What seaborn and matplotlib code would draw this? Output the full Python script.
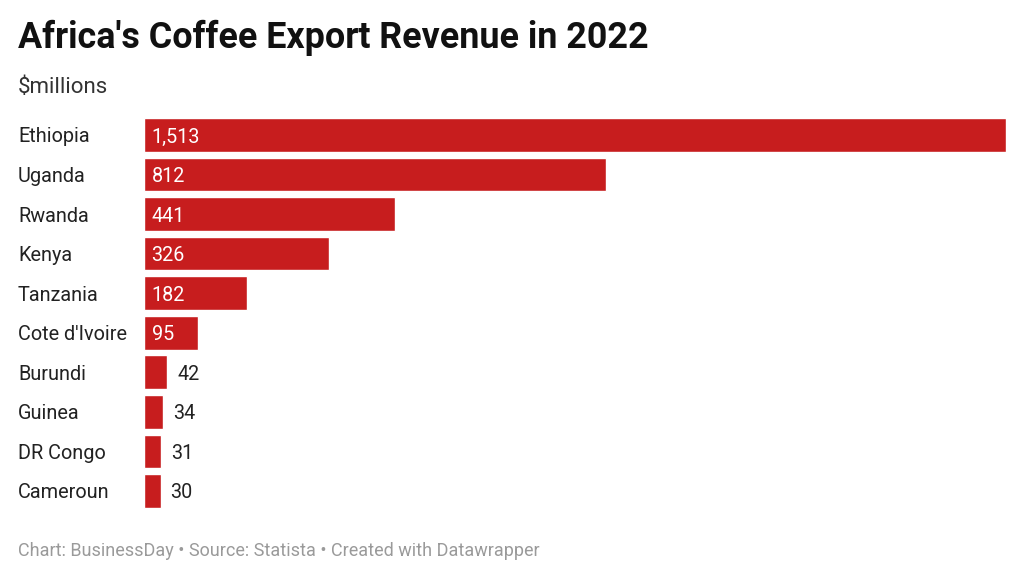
import matplotlib
matplotlib.use("Agg")
import matplotlib.pyplot as plt
import matplotlib.transforms as mtransforms
import pandas as pd
import seaborn as sns

countries = ["Ethiopia", "Uganda", "Rwanda", "Kenya", "Tanzania",
             "Cote d'Ivoire", "Burundi", "Guinea", "DR Congo", "Cameroun"]
revenue = [1513, 812, 441, 326, 182, 95, 42, 34, 31, 30]

df = pd.DataFrame({"Country": countries, "Revenue": revenue})

sns.set_theme(style="white")
plt.rcParams["font.family"] = ["Roboto", "DejaVu Sans"]

BAR_RED = "#c71d1e"

fig = plt.figure(figsize=(10.24, 5.79), dpi=100)
ax = fig.add_axes([143.5 / 1024, 0.118, 862.5 / 1024, 0.683])

sns.barplot(data=df, y="Country", x="Revenue", orient="h", color=BAR_RED,
            width=0.85, saturation=1, ax=ax)

ax.set_xlim(0, max(revenue))
ax.set_ylim(len(countries) - 0.5, -0.5)
ax.set_xticks([])
ax.set_yticks([])
ax.set_xlabel("")
ax.set_ylabel("")
sns.despine(ax=ax, left=True, bottom=True)

# country names on the far left
label_tr = mtransforms.blended_transform_factory(fig.transFigure, ax.transData)
for i, name in enumerate(countries):
    ax.text(18 / 1024, i, name, transform=label_tr, ha="left", va="center_baseline",
            fontsize=14.3, color="#222222")

# value labels: inside for long bars, outside for short
px = max(revenue) / 862
for i, v in enumerate(revenue):
    txt = f"{v:,}"
    if v >= 90:
        ax.text(8 * px, i, txt, ha="left", va="center_baseline", fontsize=14.2, color="white")
    else:
        ax.text(v + 10 * px, i, txt, ha="left", va="center_baseline", fontsize=14.2, color="#222222")

fig.text(18 / 1024, 1 - 38 / 579, "Africa's Coffee Export Revenue in 2022",
         ha="left", va="center", fontsize=25.8, fontweight="bold", color="#111111")
fig.text(18 / 1024, 1 - 88 / 579, "$millions", ha="left", va="center",
         fontsize=16, color="#333333")
fig.text(18 / 1024, 1 - 551 / 579,
         "Chart: BusinessDay \u2022 Source: Statista \u2022 Created with Datawrapper",
         ha="left", va="center", fontsize=13, color="#9a9a9a")

fig.savefig("out.png", dpi=100, facecolor="white")
